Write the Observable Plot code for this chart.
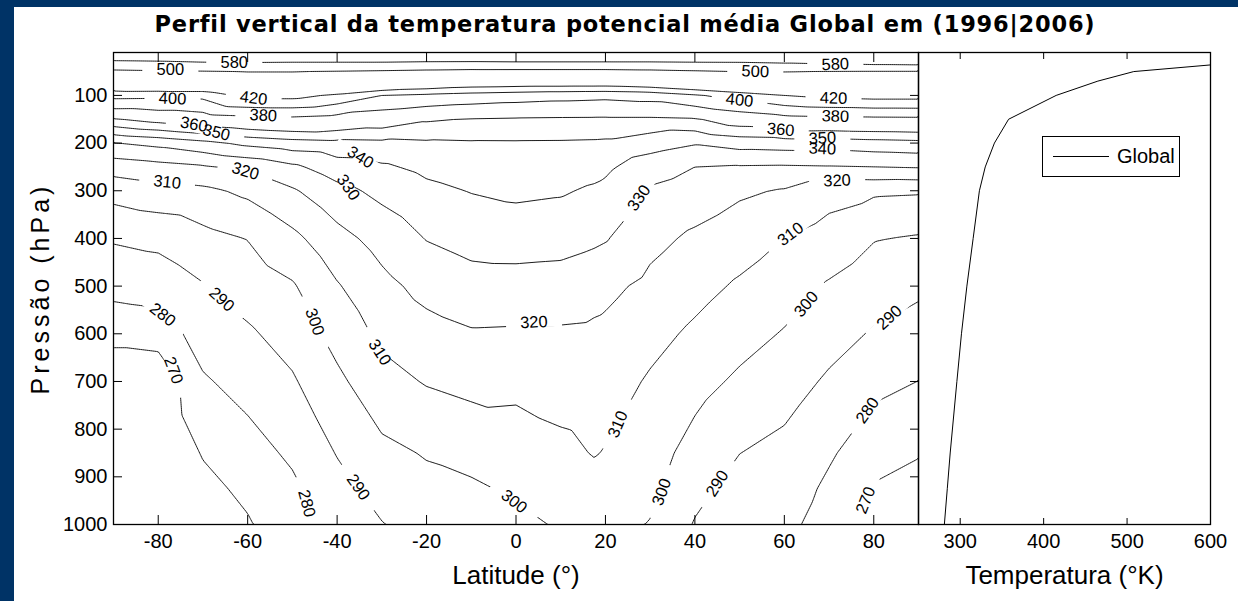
<!DOCTYPE html>
<html><head><meta charset="utf-8">
<script src="https://cdn.jsdelivr.net/npm/d3@7"></script>
<script src="https://cdn.jsdelivr.net/npm/@observablehq/plot@0.6"></script>
<style>
html,body{margin:0;padding:0;background:#fff;}
#fig{position:relative;width:1238px;height:601px;background:#fff;overflow:hidden;font-family:"Liberation Sans",Arial,sans-serif;}
#bt{position:absolute;left:0;top:0;width:1238px;height:7px;background:#003366;}
#bl{position:absolute;left:0;top:0;width:14px;height:601px;background:#003366;}
#title{position:absolute;top:13px;left:25px;width:1200px;text-align:center;font-family:"DejaVu Sans",sans-serif;font-weight:bold;font-size:22.5px;line-height:1;letter-spacing:0.8px;color:#000;white-space:nowrap;}
.layer{position:absolute;left:0;top:0;}
#legend{position:absolute;left:1042px;top:136px;width:136px;height:39px;border:1px solid #000;background:#fff;}
#legend .ln{position:absolute;left:10px;top:19px;width:56px;border-top:1px solid #000;}
#legend .tx{position:absolute;left:74px;top:8px;font-size:20px;line-height:23px;font-family:"Liberation Sans",Arial,sans-serif;}
</style></head>
<body>
<div id="fig">
  <div id="bt"></div><div id="bl"></div>
  <div id="title">Perfil vertical da temperatura potencial média Global em (1996|2006)</div>
  <div id="left" class="layer"></div>
  <div id="right" class="layer"></div>
  <div id="legend"><span class="ln"></span><span class="tx">Global</span></div>
</div>
<script>
// ---- grid: latitudes (columns) and pressure levels (rows)
const lat = [-90,-80,-70,-60,-50,-40,-30,-20,-10,0,10,17.5,20,30,40,50,60,70,80,90];
const pLevels = [1000,925,850,700,600,500,400,300,250,200,150,100,70,50,30,20,10];

// potential temperature (K) per pressure level, one value per latitude
const th1000 = [252,255,263,268.9,277.5,283.1,289.6,294,296,297.8,300.9,302.5,303,299.6,289.3,283,283.5,274.3,267,261.6];
const th925  = [255,257,266.8,272.5,278.1,286.8,293.6,297.4,298.7,301.3,304.2,306.7,306.2,302,292.8,286.5,285.8,277.9,269.2,266.2];
const th850  = [258,260,270.8,276.1,281.7,290.5,297.6,300.7,302.7,304.9,307.6,310.5,309.5,304.3,296.3,290.1,287.3,281.4,273.7,270.7];
const th700  = [262,262,278.9,283.5,288.9,297.9,306.5,310.7,312.9,312.5,314.2,315.1,314.5,308.9,303.4,298.3,294.3,288.6,282.8,279.9];
const th600  = [273.3,274.8,284.2,288.6,293.9,303.4,312.2,316.6,319.1,318.8,318.7,318.2,317.7,313,308.3,303.6,299.3,293.7,289.1,285.8];
const th500  = [283.2,284.3,289.4,294.3,299,309.2,317.2,323.1,326.2,326.3,325.8,323.5,322.5,317.6,313.2,308.7,304.5,299,294.7,292];
const th400  = [290.9,292.5,297,300.3,307.5,316.6,323.7,330.4,333.4,334.2,333.6,331.7,330.7,322.8,318.2,314.5,309.9,305.9,300.5,299.1];
const th300  = [303.6,306.4,307.8,312.1,318.8,326.9,332.6,337.7,340.4,342,341,338.6,337.6,328.8,325.7,321.5,319.2,313.7,311.5,311];
const th250  = [314.4,316.7,318.9,322.2,328,335.3,338.6,342.3,344.7,345.6,345,343.3,341.9,334.3,330,329.2,328.9,329.4,330,330.7];
const th200  = [329.7,332.7,337.1,342.5,345.6,347,347.6,348.5,349,349.1,349,348.7,348.4,344.5,340.8,344,344.8,344.3,345.8,346.9];
const th150  = [359,364.5,369.5,372.7,375,371.6,367.4,361.4,359.3,358.4,357.9,357.7,357.6,357.6,358.8,366.7,372.7,374.5,375.2,375.7];
const th100  = [406.7,405.9,405.7,427.3,427.3,416,400,396,392,389.1,386.7,385.5,385,387.7,397.6,408.9,420,425.8,428.3,428.3];
const th70   = [449.8,454.3,458,470.9,470.9,464.8,457.4,447.9,440,438.5,438.5,438.5,438.5,444,454.3,464.4,468,469.5,469.7,469.7];
const th50   = [487,492.4,496.2,501,501,496.8,491.5,485.1,480,479.5,479.5,479.5,479.5,484,492.4,501,501,498.5,497,497];
const th30   = [565,571,581,584,581,581,581,576,575,578,578,578,578,578,581,582,590,600,610,615];
const th20   = [618,620,625,630,630,630,630,630,630,630,630,630,630,630,630,632,640,650,660,665];
const th10   = [800,800,810,820,820,820,820,820,820,820,820,820,820,820,820,820,830,840,850,850];
const thetaRows = [th1000,th925,th850,th700,th600,th500,th400,th300,th250,th200,th150,th100,th70,th50,th30,th20,th10];

const contourLevels = [270,280,290,300,310,320,330,340,350,360,380,400,420,500,580];

// global mean profile (right panel)
const thetaGlobal = [281,284.5,288,296,301.5,308,315.5,323,330,341,358,415,465,508,640,720,880];

// inline contour labels: value, latitude, pressure, rotation
const clabels = [
  {v:580, lat:-63, p:31, a:0},
  {v:500, lat:-77.3, p:47, a:0},
  {v:420, lat:-58.7, p:106, a:7},
  {v:400, lat:-76.8, p:107, a:2},
  {v:380, lat:-56.5, p:142, a:3},
  {v:360, lat:-72, p:161, a:10},
  {v:350, lat:-67, p:178, a:14},
  {v:340, lat:-34.8, p:230, a:32},
  {v:330, lat:-37.5, p:293, a:55},
  {v:320, lat:-60.5, p:259, a:17},
  {v:310, lat:-78, p:282, a:6},
  {v:290, lat:-65.8, p:528, a:42},
  {v:280, lat:-79, p:560, a:38},
  {v:270, lat:-76.6, p:677, a:70},
  {v:300, lat:-45, p:575, a:70},
  {v:310, lat:-30.5, p:639, a:57},
  {v:320, lat:4, p:576, a:-3},
  {v:280, lat:-46.8, p:956, a:75},
  {v:290, lat:-35.3, p:922, a:55},
  {v:300, lat:-0.4, p:952, a:38},
  {v:330, lat:27.5, p:315, a:-55},
  {v:310, lat:22.8, p:790, a:-67},
  {v:310, lat:61.4, p:391, a:-37},
  {v:300, lat:64.9, p:538, a:-50},
  {v:290, lat:83.5, p:566, a:-42},
  {v:280, lat:78.6, p:761, a:-55},
  {v:270, lat:78.2, p:949, a:-68},
  {v:300, lat:32.6, p:932, a:-70},
  {v:290, lat:45, p:914, a:-58},
  {v:320, lat:71.8, p:279, a:-2},
  {v:340, lat:68.5, p:212, a:2},
  {v:350, lat:68.5, p:190, a:-3},
  {v:360, lat:59.2, p:172, a:5},
  {v:380, lat:71.4, p:144, a:2},
  {v:400, lat:50, p:110, a:6},
  {v:420, lat:71, p:106, a:1},
  {v:500, lat:53.5, p:50, a:2},
  {v:580, lat:71.4, p:35, a:-2}
];

const latTicks = [-80,-60,-40,-20,0,20,40,60,80];
const pTicks = [100,200,300,400,500,600,700,800,900,1000];
const tTicks = [300,400,500,600];

// build tables
const grid = [];
pLevels.forEach((p, i) => lat.forEach((la, j) => grid.push({lat: la, p, theta: thetaRows[i][j]})));
const profile = pLevels.map((p, i) => ({p, theta: thetaGlobal[i]}));

const gapShape = {draw(context, l) { context.moveTo(0, 0); context.lineTo(0, -l); }};
const baseStyle = {background: "transparent", fontFamily: "'Liberation Sans', Arial, sans-serif", fontSize: "20px", color: "black", overflow: "visible"};

const left = Plot.plot({
  width: 1238, height: 601,
  marginLeft: 113, marginRight: 320, marginTop: 52, marginBottom: 77,
  x: {domain: [-90, 90], axis: null},
  y: {domain: [1000, 10], axis: null},
  style: baseStyle,
  marks: [
    Plot.contour(grid, {x: "lat", y: "p", value: "theta", thresholds: contourLevels, interpolate: "barycentric", fill: "none", stroke: "black", strokeWidth: 0.9, clip: true}),
    Plot.vector(clabels, {x: "lat", y: "p", rotate: d => d.a + 90, length: 56, anchor: "middle", shape: gapShape, stroke: "white", strokeWidth: 10, strokeLinecap: "butt"}),
    Plot.text(clabels, {x: "lat", y: "p", text: d => String(d.v), rotate: "a", fontSize: 16.5, fill: "black"}),
    Plot.frame({stroke: "black", strokeWidth: 1.3}),
    Plot.axisX(latTicks, {anchor: "bottom", tickSize: 9, dy: -9, fill: "none", label: null}),
    Plot.axisX(latTicks, {anchor: "top", tickSize: 9, dy: 9, fill: "none", label: null}),
    Plot.axisX(latTicks, {anchor: "bottom", tickSize: 0, tickPadding: 9, tickFormat: d => String(d), fontSize: 20, label: null}),
    Plot.axisY(pTicks, {anchor: "left", tickSize: 9, dx: 9, fill: "none", label: null}),
    Plot.axisY(pTicks, {anchor: "right", tickSize: 9, dx: -9, fill: "none", label: null}),
    Plot.axisY(pTicks, {anchor: "left", tickSize: 0, tickPadding: 6, tickFormat: d => String(d), fontSize: 20, label: null}),
    Plot.text(["Latitude (°)"], {frameAnchor: "bottom", dy: 41, lineAnchor: "top", textAnchor: "middle", fontSize: 26, text: d => d}),
    Plot.text(["Pressão (hPa)"], {frameAnchor: "left", dx: -73, rotate: -90, textAnchor: "middle", fontSize: 25, text: d => d})
  ]
});
d3.select(left).selectAll("text").filter(function() { return this.textContent === "Pressão (hPa)"; }).attr("letter-spacing", "4px");
document.getElementById("left").appendChild(left);

const right = Plot.plot({
  width: 1238, height: 601,
  marginLeft: 918, marginRight: 28, marginTop: 52, marginBottom: 77,
  x: {domain: [250, 600], axis: null},
  y: {domain: [1000, 10], axis: null},
  style: baseStyle,
  marks: [
    Plot.line(profile, {x: "theta", y: "p", stroke: "black", strokeWidth: 1, clip: true}),
    Plot.frame({stroke: "black", strokeWidth: 1.3}),
    Plot.axisX(tTicks, {anchor: "bottom", tickSize: 6, dy: -6, fill: "none", label: null}),
    Plot.axisX(tTicks, {anchor: "top", tickSize: 6, dy: 6, fill: "none", label: null}),
    Plot.axisX(tTicks, {anchor: "bottom", tickSize: 0, tickPadding: 9, tickFormat: d => String(d), fontSize: 20, label: null}),
    Plot.text(["Temperatura (°K)"], {frameAnchor: "bottom", dy: 41, lineAnchor: "top", textAnchor: "middle", fontSize: 26, text: d => d})
  ]
});
document.getElementById("right").appendChild(right);
</script>
</body></html>
